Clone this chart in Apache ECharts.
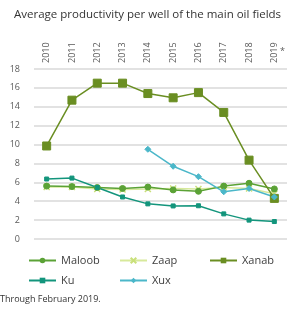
<!DOCTYPE html>
<html><head><meta charset="utf-8">
<script src="https://cdn.jsdelivr.net/npm/echarts@6/dist/echarts.min.js"></script>
<style>html,body{margin:0;padding:0;background:#fff}#c{width:297px;height:312px}</style>
</head><body><div id="c"></div>
<script>
const years = ['2010','2011','2012','2013','2014','2015','2016','2017','2018','2019'];
const maloob = [5.6, 5.55, 5.45, 5.35, 5.5, 5.2, 5.05, 5.6, 5.9, 5.3];
const zaap   = [5.5, 5.5, 5.3, 5.25, 5.3, 5.35, 5.3, 5.45, 5.35, 4.8];
const xanab  = [9.85, 14.7, 16.5, 16.5, 15.4, 14.95, 15.5, 13.4, 8.35, 4.3];
const ku     = [6.35, 6.45, 5.45, 4.45, 3.72, 3.5, 3.52, 2.66, 2.0, 1.85];
const xux    = [null, null, null, null, 9.5, 7.7, 6.6, 5.0, 5.35, 4.45];
const yTicks = [0, 2, 4, 6, 8, 10, 12, 14, 16, 18];

const font = '"Open Sans", sans-serif';
const xPath = 'path://M0,0 L10,10 M10,0 L0,10';
function s(name, data, color, symbol, size, extra) {
  return Object.assign({
    name, type: 'line', data, symbol, symbolSize: size,
    lineStyle: { color, width: 1.5 }, itemStyle: { color, borderColor: color },
    connectNulls: false, z: 3
  }, extra || {});
}
const chart = echarts.init(document.getElementById('c'), null, { renderer: 'canvas' });
const legendBase = {
  orient: 'vertical', itemWidth: 27, itemHeight: 7, itemGap: 9,
  textStyle: { fontFamily: font, fontSize: 11, color: '#404040' },
  padding: 0, selectedMode: false
};
chart.setOption({
  animation: false,
  textStyle: { fontFamily: font },
  title: { text: 'Average productivity per well of the main oil fields', left: 9, top: 4,
    textStyle: { fontFamily: font, fontSize: 11.5, fontWeight: 'normal', color: '#333' } },
  grid: { left: 34, right: 10, top: 69, bottom: 73 },
  xAxis: {
    type: 'category', data: years, position: 'top',
    axisLine: { show: false }, axisTick: { show: false },
    axisLabel: { rotate: 90, fontSize: 9, color: '#595959', fontFamily: font, margin: 6 }
  },
  yAxis: {
    type: 'value', min: yTicks[0], max: yTicks[yTicks.length - 1], interval: 2,
    axisLine: { show: false }, axisTick: { show: false },
    axisLabel: { fontSize: 9, color: '#595959', fontFamily: font, margin: 14 },
    splitLine: { lineStyle: { color: '#d9d9d9', width: 1.5 } }
  },
  legend: [
    Object.assign({}, legendBase, { left: 28, top: 255, data: ['Maloob', 'Ku'] }),
    Object.assign({}, legendBase, { left: 119, top: 255, data: ['Zaap', 'Xux'] }),
    Object.assign({}, legendBase, { left: 209, top: 255, data: ['Xanab'] })
  ],
  graphic: [
    { type: 'text', left: 280, top: 47, style: { text: '*', font: '9px ' + font, fill: '#595959' } },
    { type: 'text', left: 0, top: 295, style: { text: 'Through February 2019.', font: '9px ' + font, fill: '#333' } }
  ],
  series: [
    s('Zaap', zaap, '#d7e99b', xPath, 6, { itemStyle: { color: '#c9e07a', borderColor: '#c9e07a', borderWidth: 1.5 }, z: 2 }),
    s('Maloob', maloob, '#5ba236', 'circle', 6),
    s('Xanab', xanab, '#6a8e22', 'rect', 8),
    s('Ku', ku, '#13957c', 'rect', 4),
    s('Xux', xux, '#4bb7c9', 'diamond', 6)
  ]
});
</script></body></html>
